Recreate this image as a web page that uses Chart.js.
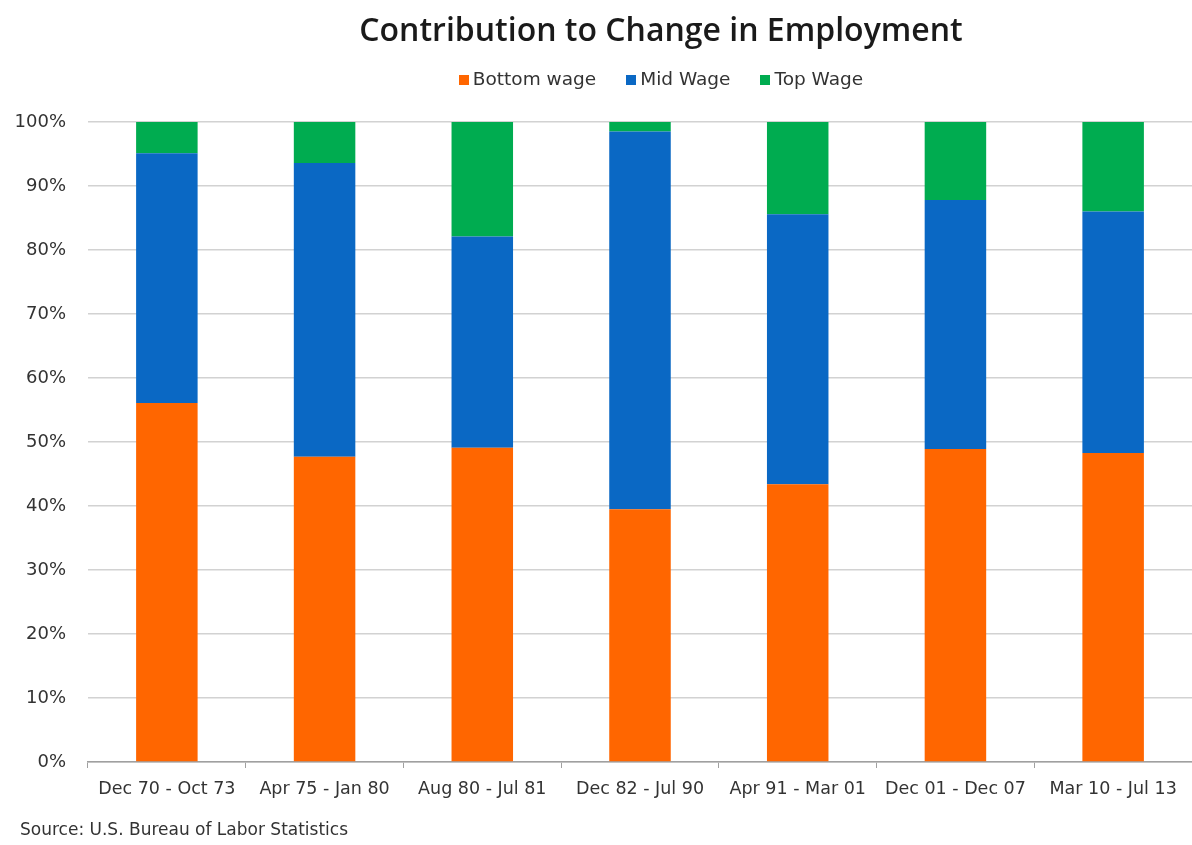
<!DOCTYPE html>
<html lang="en">

<head>
    <meta charset="UTF-8">
    <title>Contribution to Change in Employment</title>
    <script src="https://cdn.jsdelivr.net/npm/chart.js"></script>
    <style>
        body {
            margin: 0;
            background: #fff;
            font-family: "DejaVu Sans", sans-serif;
        }

        #wrap {
            position: relative;
            width: 1192px;
            height: 845px;
        }

        #title {
            position: absolute;
            top: 7px;
            left: 130px;
            width: 1062px;
            text-align: center;
            font-family: "Open Sans", sans-serif;
            font-weight: 600;
            font-size: 32px;
            color: #1a1a1a;
        }

        #legend {
            position: absolute;
            top: 68px;
            left: 130px;
            width: 1062px;
            text-align: center;
            font-size: 18.5px;
            color: #333;
        }

        #legend span.item {
            margin: 0 15px;
        }

        #legend span.box {
            display: inline-block;
            width: 10px;
            height: 10px;
            margin-right: 4px;
        }

        #source {
            position: absolute;
            left: 20px;
            top: 819px;
            font-size: 17px;
            color: #333;
        }
    </style>
</head>

<body>
    <div id="wrap">
        <canvas id="jobs-chart" width="1192" height="845"></canvas>
        <div id="title">Contribution to Change in Employment</div>
        <div id="legend"></div>
        <div id="source">Source: U.S. Bureau of Labor Statistics</div>
    </div>

    <script>
        // Periods and share of job growth by wage tier (%)
        const periods = ["Dec 70 - Oct 73", "Apr 75 - Jan 80", "Aug 80 - Jul 81", "Dec 82 - Jul 90",
            "Apr 91 - Mar 01", "Dec 01 - Dec 07", "Mar 10 - Jul 13"];
        const bottomWage = [56.1, 47.7, 49.1, 39.5, 43.4, 48.9, 48.3];
        const midWage = [39.0, 45.9, 33.0, 59.0, 42.2, 38.9, 37.7];
        const topWage = [4.9, 6.4, 17.9, 1.5, 14.4, 12.2, 14.0];
        const yTicks = [0, 10, 20, 30, 40, 50, 60, 70, 80, 90, 100];

        const series = [
            { label: 'Bottom wage', data: bottomWage, color: '#ff6600' },
            { label: 'Mid Wage', data: midWage, color: '#0a68c4' },
            { label: 'Top Wage', data: topWage, color: '#00ac50' }
        ];

        var ctx = document.getElementById('jobs-chart').getContext('2d');
        var chart = new Chart(ctx, {
            type: 'bar',
            data: {
                labels: periods,
                datasets: series.map(s => ({
                    label: s.label,
                    data: s.data,
                    backgroundColor: s.color,
                    borderWidth: 0,
                    barPercentage: 0.39,
                    categoryPercentage: 1
                }))
            },
            options: {
                responsive: false,
                devicePixelRatio: 1,
                animation: false,
                layout: { padding: { top: 122, bottom: 33, left: 0, right: 0 } },
                plugins: {
                    legend: { display: false },
                    title: { display: false },
                    tooltip: { enabled: false }
                },
                scales: {
                    x: {
                        stacked: true,
                        grid: { display: true, drawOnChartArea: false, drawTicks: true, tickLength: 6, color: '#a0a0a0' },
                        border: { display: true, color: '#a0a0a0', width: 1.5 },
                        ticks: { color: '#333', font: { family: 'DejaVu Sans', size: 17.5 }, padding: 11, maxRotation: 0 },
                        afterFit: (scale) => { scale.height = 50; }
                    },
                    y: {
                        stacked: true,
                        min: 0,
                        max: 100,
                        afterBuildTicks: (scale) => { scale.ticks = yTicks.map(v => ({ value: v })); },
                        grid: { color: '#d2d2d2', lineWidth: 1.5, drawTicks: false },
                        border: { display: false },
                        ticks: {
                            color: '#333',
                            font: { family: 'DejaVu Sans', size: 18 },
                            padding: 22,
                            callback: (v) => v + '%'
                        },
                        afterFit: (scale) => { scale.width = 88; }
                    }
                }
            }
        });

        // legend drawn as html above the plot
        document.getElementById('legend').innerHTML = series.map(s =>
            '<span class="item"><span class="box" style="background:' + s.color + '"></span>' + s.label + '</span>'
        ).join('');
    </script>
</body>

</html>
